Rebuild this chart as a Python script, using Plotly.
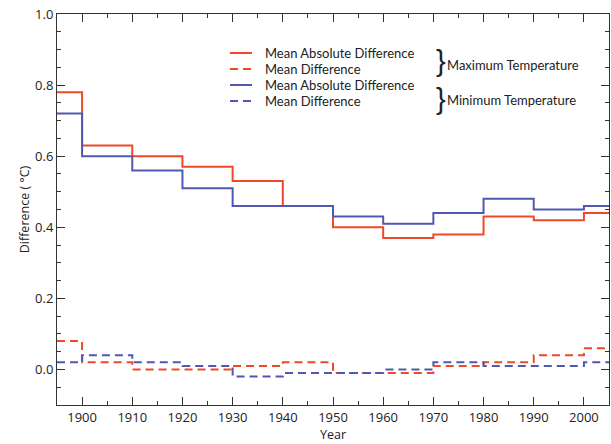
import plotly.graph_objects as go

# decade bins (start years) and final end year
bin_starts = [1895, 1900, 1910, 1920, 1930, 1940, 1950, 1960, 1970, 1980, 1990, 2000]
end_year = 2005

tmax_mad = [0.78, 0.63, 0.60, 0.57, 0.53, 0.46, 0.40, 0.37, 0.38, 0.43, 0.42, 0.44]
tmax_md = [0.08, 0.02, 0.00, 0.00, 0.01, 0.02, -0.01, -0.01, 0.01, 0.02, 0.04, 0.06]
tmin_mad = [0.72, 0.60, 0.56, 0.51, 0.46, 0.46, 0.43, 0.41, 0.44, 0.48, 0.45, 0.46]
tmin_md = [0.02, 0.04, 0.02, 0.01, -0.02, -0.01, -0.01, 0.00, 0.02, 0.01, 0.01, 0.02]

series_names = ["Mean Absolute Difference", "Mean Difference",
                "Mean Absolute Difference", "Mean Difference"]
group_names = ["Maximum Temperature", "Minimum Temperature"]

x_tick_vals = [1900, 1910, 1920, 1930, 1940, 1950, 1960, 1970, 1980, 1990, 2000]
y_tick_vals = [0.0, 0.2, 0.4, 0.6, 0.8, 1.0]
y_tick_text = ["0.0", "0.2", "0.4", "0.6", "0.8", "1.0"]

RED = "#EE4A2A"
BLUE = "#5058B2"
FONT = "Open Sans"
LEG_FONT = "Lato"

xs = bin_starts + [end_year]

def ext(v):
    return v + [v[-1]]

fig = go.Figure()
styles = [
    (tmax_mad, RED, "solid"),
    (tmax_md, RED, "8px,5px"),
    (tmin_mad, BLUE, "solid"),
    (tmin_md, BLUE, "8px,5px"),
]
for (vals, col, dash), name in zip(styles, series_names):
    fig.add_trace(go.Scatter(x=xs, y=ext(vals), mode="lines", line_shape="hv",
                             line=dict(color=col, width=2, dash=dash),
                             name=name, showlegend=False))

# manual legend (pixel layout helpers)
W, H = 611, 444
L, R, T, B = 57, 2, 14, 39
plot_w = W - L - R
plot_h = H - T - B

def px(p):
    return (p - L) / plot_w

def py(p):
    return 1 - (p - T) / plot_h

leg_y = [53, 69, 85, 101]
shapes = []
annotations = []
for i, ((vals, col, dash), name) in enumerate(zip(styles, series_names)):
    yy = py(leg_y[i])
    shapes.append(dict(type="line", xref="paper", yref="paper",
                       x0=px(230), x1=px(252), y0=yy, y1=yy,
                       line=dict(color=col, width=2, dash=dash if dash != "solid" else None)))
    annotations.append(dict(x=px(264), y=yy, xref="paper", yref="paper",
                            text=name, showarrow=False, xanchor="left", yanchor="middle",
                            borderpad=0, width=160, align="left",
                            font=dict(family=LEG_FONT, size=13, color="#222")))

brace_y = [61, 99]
text_y = [65, 100]
for j, g in enumerate(group_names):
    annotations.append(dict(x=px(434), y=py(brace_y[j]), xref="paper", yref="paper",
                            text="}", showarrow=False, xanchor="left", yanchor="middle",
                            font=dict(family="Liberation Sans", size=29, color="#222")))
    annotations.append(dict(x=px(446), y=py(text_y[j]), xref="paper", yref="paper",
                            text=g, showarrow=False, xanchor="left", yanchor="middle",
                            borderpad=0, width=150, align="left",
                            font=dict(family=LEG_FONT, size=13, color="#222")))

fig.update_layout(
    width=W, height=H,
    margin=dict(l=L, r=R, t=T, b=B, autoexpand=False),
    paper_bgcolor="white", plot_bgcolor="white",
    font=dict(family=FONT, size=13, color="#222"),
    shapes=shapes, annotations=annotations,
    showlegend=False,
)
fig.update_xaxes(
    range=[1895, 2005], tickvals=x_tick_vals, ticks="inside", ticklen=8,
    tickcolor="#333", showline=True, linecolor="#333", linewidth=1, mirror="ticks",
    showgrid=False, zeroline=False, automargin=False,
    minor=dict(dtick=5, tick0=1895, ticks="inside", ticklen=4, tickcolor="#333"),
    title=dict(text="Year", standoff=2, font=dict(size=12.5)),
    tickfont=dict(size=13),
)
fig.update_yaxes(
    range=[-0.1, 1.0], tickvals=y_tick_vals, ticktext=y_tick_text, ticks="inside", ticklen=8,
    tickcolor="#333", showline=True, linecolor="#333", linewidth=1, mirror="ticks",
    showgrid=False, zeroline=False, automargin=False,
    minor=dict(dtick=0.05, tick0=0, ticks="inside", ticklen=4, tickcolor="#333"),
    title=dict(text="Difference (\u00a0°C)", standoff=2, font=dict(size=12.5)),
    tickfont=dict(size=13),
)

fig.write_html("out.html", config={"displayModeBar": False},
               post_script="document.body.style.margin='0';document.body.style.overflow='hidden';")
